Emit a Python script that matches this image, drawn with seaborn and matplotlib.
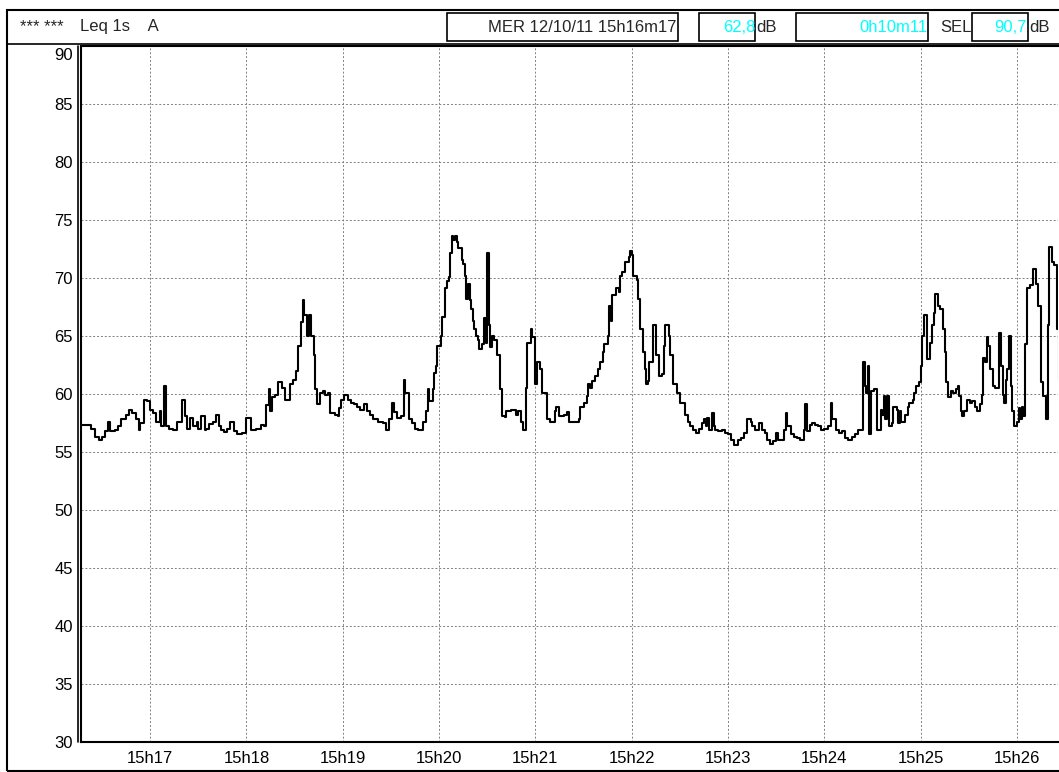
import matplotlib
matplotlib.use('Agg')
import matplotlib.pyplot as plt
import matplotlib.transforms as mtransforms
import seaborn as sns
from matplotlib.patches import Rectangle
from matplotlib.lines import Line2D

# seconds after 15h16m17 and Leq 1s (dB A)
secs = [0, 6, 9, 11, 13, 15, 17, 18, 21, 23, 25, 28, 30, 32, 34, 36, 37, 39, 41, 43,
        45, 47, 49, 50, 52, 53, 55, 57, 60, 63, 65, 66, 68, 70, 72, 73, 75, 77, 78, 80,
        82, 84, 86, 87, 89, 91, 93, 95, 97, 100, 103, 106, 109, 112, 114, 115, 117, 118, 119, 121,
        123, 125, 127, 130, 132, 134, 135, 137, 138, 139, 141, 142, 143, 145, 146, 147, 149, 151, 152, 154,
        155, 158, 160, 161, 162, 164, 166, 168, 170, 172, 174, 176, 178, 180, 182, 185, 188, 190, 192, 194,
        195, 197, 199, 201, 202, 204, 206, 208, 210, 213, 215, 216, 217, 219, 220, 221, 222, 224, 225, 227,
        228, 229, 230, 231, 232, 233, 234, 235, 237, 238, 239, 240, 241, 242, 243, 244, 245, 246, 247, 248,
        250, 251, 252, 253, 254, 255, 256, 257, 259, 261, 262, 264, 265, 268, 271, 272, 274, 275, 277, 278,
        280, 281, 283, 284, 286, 287, 290, 292, 295, 296, 298, 301, 303, 304, 310, 311, 313, 315, 316, 317,
        318, 320, 322, 323, 325, 326, 328, 329, 330, 331, 333, 335, 336, 337, 339, 341, 342, 343, 344, 346,
        347, 348, 350, 351, 352, 353, 354, 356, 358, 360, 362, 363, 364, 366, 367, 369, 371, 373, 376, 378,
        379, 381, 383, 385, 387, 388, 389, 390, 391, 393, 394, 395, 397, 399, 401, 403, 405, 407, 409, 411,
        413, 415, 417, 418, 420, 422, 424, 426, 427, 429, 431, 433, 434, 438, 439, 440, 442, 444, 446, 448,
        450, 451, 452, 454, 455, 457, 459, 461, 463, 465, 467, 468, 470, 472, 474, 476, 478, 480, 482, 484,
        487, 488, 489, 490, 491, 492, 494, 496, 498, 499, 500, 501, 502, 503, 505, 506, 508, 509, 510, 511,
        513, 515, 516, 518, 519, 520, 522, 523, 524, 525, 527, 529, 530, 531, 532, 534, 535, 537, 538, 539,
        540, 542, 543, 545, 546, 547, 548, 549, 550, 552, 554, 555, 557, 558, 560, 561, 562, 563, 564, 565,
        566, 568, 569, 572, 573, 574, 575, 576, 577, 578, 579, 580, 581, 583, 584, 585, 586, 587, 588, 589,
        591, 593, 595, 596, 598, 599, 601, 602, 603, 605, 606, 608, 609, 610]
levels = [57.3, 57.0, 56.3, 56.0, 56.3, 56.8, 57.6, 56.8, 56.9, 57.2, 57.8, 58.2, 58.6, 58.3, 57.8, 56.9, 57.5, 59.5, 59.4, 58.6,
          58.3, 57.6, 58.5, 57.2, 60.7, 57.2, 57.0, 56.9, 57.6, 59.5, 58.1, 57.0, 57.9, 57.2, 57.6, 57.0, 58.1, 56.9, 57.0, 57.4,
          57.6, 58.2, 57.2, 56.9, 56.7, 57.0, 57.6, 56.8, 56.5, 56.6, 57.9, 56.9, 57.0, 57.3, 57.2, 59.0, 60.4, 58.5, 59.7, 59.9,
          61.0, 60.5, 59.5, 60.8, 61.2, 62.0, 64.1, 66.2, 68.1, 66.8, 65.0, 66.8, 65.0, 63.3, 60.4, 59.1, 60.1, 60.2, 59.9, 60.1,
          58.3, 58.2, 58.1, 58.8, 59.5, 59.9, 59.5, 59.2, 59.1, 58.9, 58.6, 59.1, 58.5, 58.2, 57.8, 57.6, 57.5, 56.9, 57.8, 59.2,
          58.4, 57.9, 58.1, 61.2, 60.1, 57.8, 57.5, 57.0, 56.9, 57.6, 58.5, 60.4, 59.4, 60.4, 61.8, 62.4, 64.1, 65.0, 66.6, 69.1,
          69.7, 70.1, 72.1, 73.6, 73.3, 73.6, 73.1, 72.6, 71.5, 71.2, 70.2, 68.2, 69.5, 68.1, 67.3, 66.3, 65.6, 65.0, 64.6, 63.9,
          64.3, 66.5, 64.4, 72.1, 65.9, 64.0, 65.0, 64.6, 63.3, 60.4, 58.1, 58.0, 58.5, 58.6, 58.2, 58.5, 57.6, 56.9, 60.5, 64.4,
          65.6, 64.9, 60.8, 62.7, 62.1, 60.1, 57.8, 57.6, 58.5, 58.9, 58.1, 58.2, 58.4, 57.6, 57.8, 58.9, 59.2, 59.8, 60.8, 60.5,
          61.1, 61.5, 62.1, 62.7, 63.6, 64.3, 65.0, 67.6, 66.3, 68.5, 69.1, 68.8, 70.2, 70.5, 71.4, 71.8, 72.3, 72.0, 70.2, 69.8,
          68.2, 65.6, 63.6, 62.1, 60.8, 61.1, 62.7, 65.9, 63.3, 61.5, 61.7, 64.1, 65.9, 65.0, 63.3, 60.8, 60.1, 59.2, 58.2, 57.6,
          57.2, 56.9, 56.6, 57.0, 57.5, 57.8, 57.2, 57.9, 56.9, 58.3, 57.2, 56.9, 56.8, 56.9, 56.6, 56.5, 56.0, 55.6, 56.0, 56.2,
          56.6, 57.8, 57.6, 57.2, 56.9, 57.5, 56.9, 56.6, 56.0, 55.7, 55.9, 56.6, 56.0, 56.9, 58.3, 57.2, 56.5, 56.3, 56.2, 56.0,
          56.9, 59.1, 56.8, 57.3, 57.5, 57.3, 57.2, 56.9, 57.0, 57.2, 59.2, 57.8, 56.9, 56.6, 56.8, 56.2, 56.0, 56.3, 56.5, 56.9,
          62.7, 60.7, 60.1, 62.4, 56.5, 60.2, 60.4, 56.9, 58.6, 58.2, 59.8, 57.8, 59.8, 57.2, 57.5, 58.9, 58.6, 57.5, 58.5, 57.6,
          58.2, 58.9, 59.2, 59.5, 60.1, 60.7, 61.0, 62.4, 65.0, 66.8, 63.0, 64.4, 65.9, 67.0, 68.6, 67.6, 67.3, 65.6, 63.6, 61.0,
          59.7, 60.2, 60.1, 60.4, 60.7, 59.8, 58.5, 58.1, 58.5, 59.5, 59.2, 59.4, 58.9, 58.5, 59.1, 59.9, 63.1, 62.7, 64.9, 64.1,
          62.1, 60.7, 60.5, 65.2, 62.4, 59.9, 59.2, 61.2, 62.1, 65.0, 60.7, 58.5, 57.2, 57.6, 58.8, 57.8, 58.9, 58.1, 64.3, 69.1,
          69.4, 70.8, 69.5, 67.6, 61.0, 59.8, 57.8, 65.9, 72.7, 71.4, 71.1, 65.6, 61.2, 59.7]

tick_secs = [43, 103, 163, 223, 283, 343, 403, 463, 523, 583]
tick_labels = ['15h17', '15h18', '15h19', '15h20', '15h21', '15h22', '15h23', '15h24', '15h25', '15h26']
y_ticks = [30, 35, 40, 45, 50, 55, 60, 65, 70, 75, 80, 85, 90]

sns.set_theme(style='white')
plt.rcParams['font.family'] = ['Liberation Sans', 'DejaVu Sans']

W, H = 1059, 772
fig = plt.figure(figsize=(W / 100, H / 100), dpi=100)
fig.patch.set_facecolor('white')


def fx(px):
    return px / W


def fy(py):
    return 1 - py / H


ax = fig.add_axes([fx(81), fy(741.5), fx(1058) - fx(81), fy(46) - fy(741.5)])
sns.lineplot(x=secs, y=levels, ax=ax, color='black', linewidth=1.5,
             drawstyle='steps-post', estimator=None)
ax.set_xlim(0, 608.5)
ax.set_ylim(30, 90)
ax.set_xticks(tick_secs)
ax.set_xticklabels(tick_labels, fontsize=12)
ax.set_yticks(y_ticks)
ax.set_yticklabels([str(v) for v in y_ticks], fontsize=12)
ax.grid(True, color='#808080', linestyle=(0, (2, 2)), linewidth=0.7)
ax.tick_params(axis='both', direction='out', length=4, width=1, colors='black', pad=3)
ax.tick_params(axis='y', pad=2)
for side in ['left', 'bottom', 'top']:
    ax.spines[side].set_color('black')
    ax.spines[side].set_linewidth(1.5)
ax.spines['right'].set_visible(False)
ax.set_xlabel('')
ax.set_ylabel('')

# top "90" label sits a little lower, under the header line
top_lab = ax.get_yticklabels()[-1]
top_lab.set_transform(top_lab.get_transform() +
                      mtransforms.ScaledTranslation(0, -0.08, fig.dpi_scale_trans))

# double left axis line
fig.add_artist(Line2D([fx(78), fx(78)], [fy(46), fy(741.5)], color='black', lw=1.2))

# outer frame and header
fig.add_artist(Rectangle((fx(7), fy(771)), fx(1070) - fx(7), fy(10) - fy(771),
                         transform=fig.transFigure, fill=False, ec='black', lw=1.5))
fig.add_artist(Line2D([fx(7), fx(1059)], [fy(43.5), fy(43.5)], color='black', lw=1.2))
for x0, x1 in [(447, 678), (699, 755), (796, 928), (972, 1028)]:
    fig.add_artist(Rectangle((fx(x0), fy(41)), fx(x1) - fx(x0), fy(13) - fy(41),
                             transform=fig.transFigure, fill=False, ec='black', lw=1.2))

ty = fy(27)
hs = 12
fig.text(fx(20), ty, '*** ***', fontsize=hs, va='center', ha='left')
fig.text(fx(80), ty, 'Leq 1s    A', fontsize=hs, va='center', ha='left')
fig.text(fx(677), ty, 'MER 12/10/11 15h16m17', fontsize=hs, va='center', ha='right')
fig.text(fx(755), ty, '62,8', fontsize=hs, va='center', ha='right', color='#00FFFF')
fig.text(fx(756), ty, 'dB', fontsize=hs, va='center', ha='left')
fig.text(fx(927), ty, '0h10m11', fontsize=hs, va='center', ha='right', color='#00FFFF')
fig.text(fx(940), ty, 'SEL', fontsize=hs, va='center', ha='left')
fig.text(fx(1027), ty, '90,7', fontsize=hs, va='center', ha='right', color='#00FFFF')
fig.text(fx(1029), ty, 'dB', fontsize=hs, va='center', ha='left')

fig.savefig('out.png', dpi=100)
